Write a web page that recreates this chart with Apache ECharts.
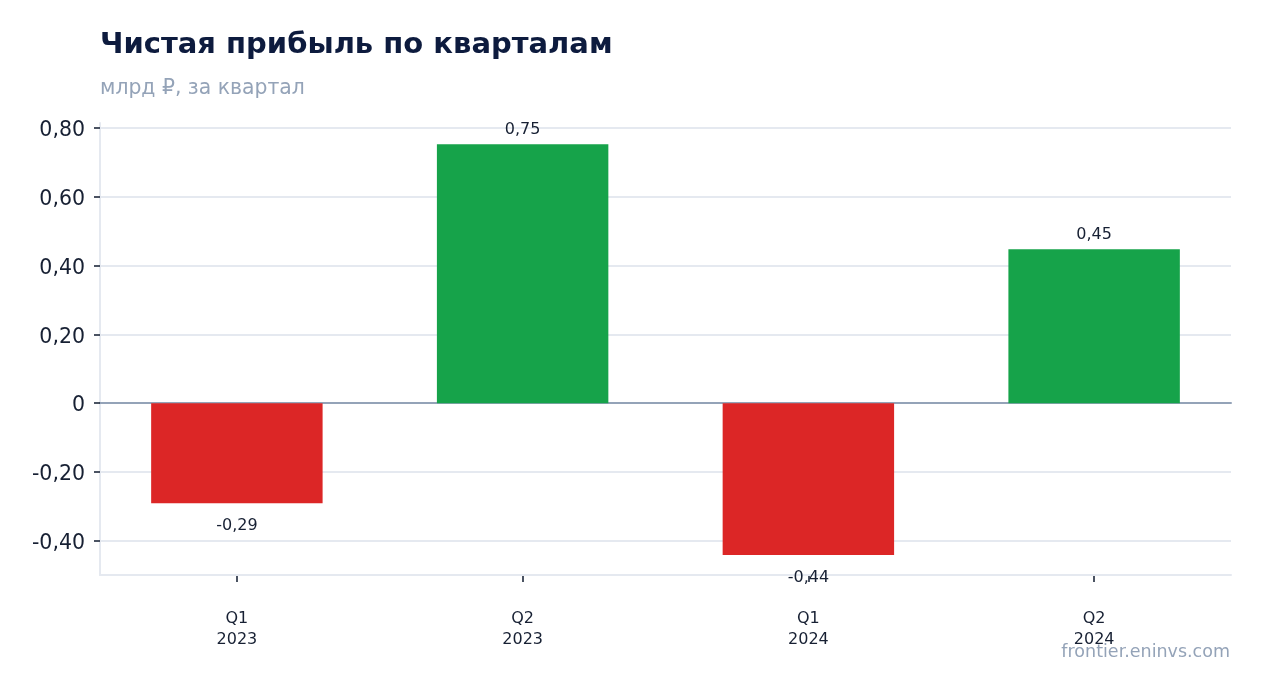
<!DOCTYPE html>
<html>
<head>
<meta charset="utf-8">
<script src="https://cdn.jsdelivr.net/npm/echarts@6/dist/echarts.min.js"></script>
<style>
html,body{margin:0;padding:0;background:#fff;}
#c{width:1262px;height:693px;}
</style>
</head>
<body>
<div id="c"></div>
<script>
const categories = ['Q1\n2023', 'Q2\n2023', 'Q1\n2024', 'Q2\n2024'];
const profit = [-0.291, 0.753, -0.442, 0.448];
const yMin = -0.5;
const yMax = 0.815;

const FONT = 'DejaVu Sans';
const fmt = v => v === 0 ? '0' : v.toFixed(2).replace('.', ',');

const chart = echarts.init(document.getElementById('c'));
chart.setOption({
  animation: false,
  backgroundColor: '#ffffff',
  textStyle: { fontFamily: FONT },
  title: [
    { text: 'Чистая прибыль по кварталам', left: 100, top: 30.5, padding: 0,
      textStyle: { fontFamily: FONT, fontSize: 29, fontWeight: 'bold', color: '#0d1b3e' } },
    { text: 'млрд ₽, за квартал', left: 100, top: 78.5, padding: 0,
      textStyle: { fontFamily: FONT, fontSize: 20.4, fontWeight: 'normal', color: '#94a3b8' } },
    { text: 'frontier.eninvs.com', right: 32, top: 643.5, padding: 0,
      textStyle: { fontFamily: FONT, fontSize: 17.5, fontWeight: 'normal', color: '#94a3b8' } }
  ],
  grid: [
    { left: 100, right: 31, top: 123, bottom: 118 },
    { left: 94, right: 25, top: 123, bottom: 118 }
  ],
  yAxis: [
    { gridIndex: 0, type: 'value', min: yMin, max: yMax, splitNumber: 6,
      axisLine: { show: true, lineStyle: { color: '#e5e9f0', width: 2 } },
      axisTick: { show: true, length: 6, lineStyle: { color: '#1e293b', width: 1.6 } },
      axisLabel: { margin: 15, fontSize: 20.5, color: '#172033', fontFamily: FONT,
        verticalAlign: 'top', lineHeight: 20, padding: [-7, 0, 0, 0],
        showMinLabel: false, showMaxLabel: false, formatter: fmt },
      splitLine: { show: true, showMinLine: false, showMaxLine: false,
        lineStyle: { color: '#e5e9f0', width: 2 } } },
    { gridIndex: 1, type: 'value', min: yMin, max: yMax, show: false }
  ],
  xAxis: [
    { gridIndex: 0, type: 'category', data: categories, position: 'bottom',
      axisLine: { show: true, onZero: true, lineStyle: { color: '#94a3b8', width: 2 } },
      axisTick: { show: false }, axisLabel: { show: false }, splitLine: { show: false } },
    { gridIndex: 0, type: 'category', data: categories, position: 'bottom',
      axisLine: { show: true, onZero: false, lineStyle: { color: '#e5e9f0', width: 2 } },
      axisTick: { show: false }, axisLabel: { show: false }, splitLine: { show: false } },
    { gridIndex: 1, type: 'category', data: categories, position: 'bottom', offset: 1,
      axisLine: { show: false, onZero: false },
      axisTick: { show: true, alignWithLabel: true, length: 6, lineStyle: { color: '#1e293b', width: 1.6 } },
      axisLabel: { margin: 32, fontSize: 16, lineHeight: 21, color: '#172033', fontFamily: FONT },
      splitLine: { show: false } }
  ],
  series: [{
    type: 'bar',
    xAxisIndex: 2,
    yAxisIndex: 1,
    barWidth: '60%',
    data: profit.map(v => ({
      value: v,
      itemStyle: { color: v >= 0 ? '#16a34a' : '#dc2626' },
      label: { position: v >= 0 ? 'top' : 'bottom', distance: v >= 0 ? 6.5 : 14.5 }
    })),
    label: { show: true, fontSize: 16, color: '#172033', fontFamily: FONT,
      formatter: p => p.value.toFixed(2).replace('.', ',') }
  }]
});
</script>
</body>
</html>
